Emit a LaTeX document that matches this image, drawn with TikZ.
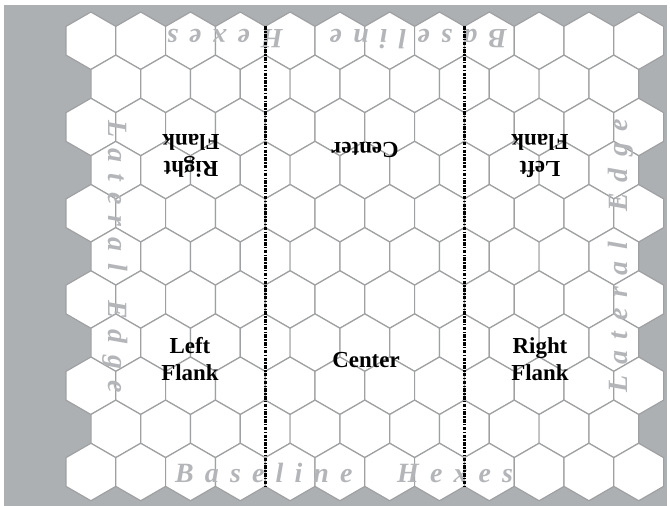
\documentclass[tikz,border=0pt]{standalone}
\usepackage{fontspec}
\setmainfont{Liberation Serif}
\definecolor{bggray}{HTML}{ADB0B3}
\definecolor{hexline}{HTML}{9FA0A2}
\definecolor{edgetext}{HTML}{B3B5B8}
\tikzset{
  hexcell/.style={fill=white, draw=hexline, line width=1.2bp, line join=miter},
  edgelabel/.style={text=edgetext, inner sep=0pt, anchor=base west,
    font=\fontsize{28}{28}\selectfont\bfseries\itshape\addfontfeature{LetterSpace=40}},
  zonelabel/.style={text=black, inner sep=0pt, align=center,
    font=\fontsize{23}{27}\selectfont\bfseries},
  divider/.style={draw=black, line width=2.6bp, dash pattern=on 3.5bp off 1.4bp on 1.4bp off 1.4bp}
}
\begin{document}
\begin{tikzpicture}[x=1bp,y=-1bp]
\useasboundingbox (0,0) rectangle (670,506);
\fill[bggray] (4,5) rectangle (667,506);
% hex grid
\foreach \r in {0,...,10}{
  \pgfmathtruncatemacro\odd{mod(\r,2)}
  \pgfmathtruncatemacro\n{11-\odd}
  \foreach \k in {0,...,\n}{
    \pgfmathsetmacro\cx{66+24.9+24.9*\odd+49.8*\k}
    \pgfmathsetmacro\cy{40.75+43.125*\r}
    \draw[hexcell] (\cx,\cy) +(90:28.75) -- +(30:28.75) -- +(-30:28.75) -- +(-90:28.75) -- +(-150:28.75) -- +(150:28.75) -- cycle;
  }
}
% edge labels
\node[edgelabel] (bb) at (175,482) {Baseline};
\node[edgelabel] (bh) at (397,482) {Hexes};
\node[edgelabel, rotate=180] (tb) at (507,30) {Baseline};
\node[edgelabel, rotate=180] (th) at (283,30) {Hexes};
\node[edgelabel, rotate=-90] (ll) at (108,120) {Lateral};
\node[edgelabel, rotate=-90] (le) at (108,300) {Edge};
\node[edgelabel, rotate=90] (rl) at (627,393) {Lateral};
\node[edgelabel, rotate=90] (re) at (627,212) {Edge};
% dividers
\coordinate (d1t) at (265.2,26.4);
\coordinate (d1b) at (265.2,486.4);
\coordinate (d2t) at (464.4,26.4);
\coordinate (d2b) at (464.4,486.4);
\draw[divider] (d1t) -- (d1b);
\draw[divider] (d2t) -- (d2b);
% zone labels
\node[zonelabel] (blf) at (190,359) {Left\\Flank};
\node[zonelabel] (bc) at (366,360) {Center};
\node[zonelabel] (brf) at (540,359) {Right\\Flank};
\node[zonelabel, rotate=180] (trf) at (191,156) {Right\\Flank};
\node[zonelabel, rotate=180] (tc) at (365,150) {Center};
\node[zonelabel, rotate=180] (tlf) at (540,156) {Left\\Flank};
\end{tikzpicture}
\end{document}
